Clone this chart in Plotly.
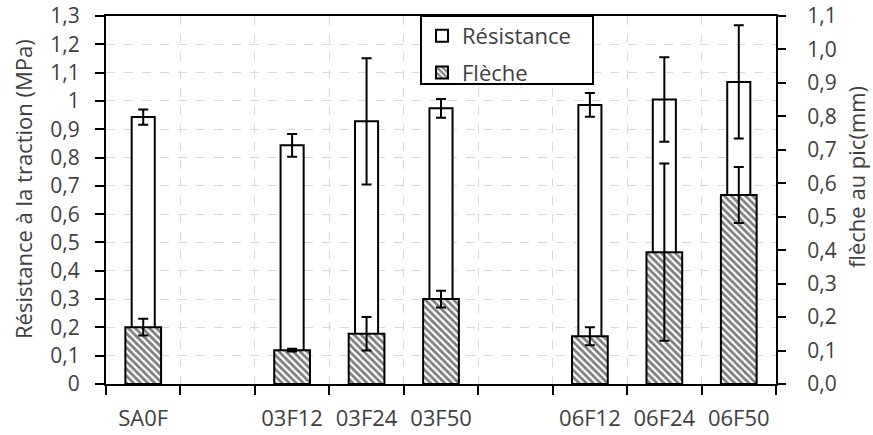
import plotly.graph_objects as go

categories = ["SA0F", " ", "03F12", "03F24", "03F50", "  ", "06F12", "06F24", "06F50"]
bar_cats = ["SA0F", "03F12", "03F24", "03F50", "06F12", "06F24", "06F50"]
resistance = [0.943, 0.843, 0.928, 0.974, 0.986, 1.005, 1.067]
resistance_err = [0.027, 0.040, 0.223, 0.033, 0.042, 0.149, 0.200]
fleche = [0.170, 0.101, 0.150, 0.254, 0.143, 0.394, 0.565]
fleche_err = [0.025, 0.004, 0.050, 0.025, 0.027, 0.265, 0.084]

FONT = "Open Sans"
FS = 22
FT = 21
TXT = "#404040"

fig = go.Figure()
fig.add_trace(go.Bar(
    x=bar_cats, y=resistance, name="Résistance", yaxis="y",
    width=0.31, legendgroup="a",
    marker=dict(color="white", line=dict(color="black", width=2)),
    error_y=dict(type="data", array=resistance_err, color="black", thickness=2, width=5),
))
fig.add_trace(go.Bar(
    x=bar_cats, y=fleche, name="Flèche", yaxis="y2",
    width=0.48, legendgroup="b",
    marker=dict(color="white", line=dict(color="black", width=2),
                pattern=dict(shape="\\", fgcolor="black", bgcolor="white", size=5, solidity=0.55)),
    error_y=dict(type="data", array=fleche_err, color="black", thickness=2, width=5),
))

L, R, T, B = 106, 97, 16, 51
W, H = 873, 435
pw, ph = W - L - R, H - T - B

def px_x(p):
    return (p - L) / pw

def px_y(p):
    return (H - B - p) / ph

fig.update_layout(
    width=W, height=H,
    margin=dict(l=L, r=R, t=T, b=B, autoexpand=False),
    paper_bgcolor="white", plot_bgcolor="white",
    barmode="overlay",
    separators=", ",
    font=dict(family=FONT, size=FS, color=TXT),
    showlegend=True,
    legend=dict(x=px_x(422), y=px_y(15), xanchor="left", yanchor="top",
                bgcolor="rgba(0,0,0,0)", borderwidth=0, tracegroupgap=5,
                font=dict(family=FONT, size=FS, color=TXT)),
    xaxis=dict(type="category", categoryorder="array", categoryarray=categories,
               tickson="boundaries", ticks="outside", ticklen=9, tickwidth=2, tickcolor="black",
               showline=True, linecolor="black", linewidth=2, mirror=True,
               showgrid=True, gridcolor="#d9d9d9", griddash="dash", gridwidth=1,
               ticklabelstandoff=14, automargin=False,
               tickfont=dict(family=FONT, size=FS, color=TXT)),
    yaxis=dict(range=[0, 1.30001], dtick=0.1, tick0=0, ticks="outside", ticklen=9, tickwidth=2,
               tickcolor="black", showline=True, linecolor="black", linewidth=2,
               showgrid=True, gridcolor="#d9d9d9", griddash="dash", gridwidth=1,
               zeroline=False, ticklabelstandoff=11, ticklabeloverflow="allow", automargin=False,
               tickfont=dict(family=FONT, size=FT, color=TXT)),
    yaxis2=dict(range=[0, 1.10001], dtick=0.1, tick0=0, tickformat=".1f", overlaying="y", side="right",
                ticks="outside", ticklen=8, tickwidth=2, tickcolor="black",
                showline=True, linecolor="black", linewidth=2, showgrid=False, zeroline=False,
                ticklabelstandoff=17, ticklabeloverflow="allow", automargin=False,
                tickfont=dict(family=FONT, size=FT, color=TXT)),
    shapes=[dict(type="rect", xref="paper", yref="paper",
                 x0=px_x(421), x1=px_x(593), y0=px_y(84), y1=1.0,
                 line=dict(color="black", width=2), fillcolor="white", layer="above")],
    annotations=[
        dict(text="Résistance à la traction (MPa)", xref="paper", yref="paper",
             x=px_x(23), y=px_y(189), xanchor="center", yanchor="middle",
             textangle=-90, showarrow=False,
             font=dict(family=FONT, size=FS, color=TXT)),
        dict(text="flèche au pic(mm)", xref="paper", yref="paper",
             x=px_x(856), y=px_y(177), xanchor="center", yanchor="middle",
             textangle=-90, showarrow=False,
             font=dict(family=FONT, size=FS, color=TXT)),
    ],
)

fig.write_html("out.html", config={"displayModeBar": False},
               post_script="document.body.style.margin='0';document.body.style.padding='0';")
